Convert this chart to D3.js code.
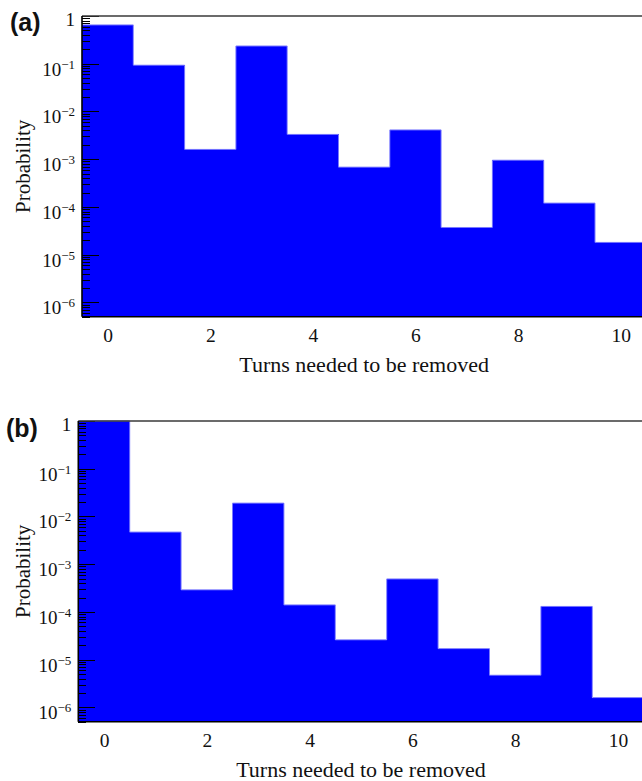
<!DOCTYPE html>
<html>
<head>
<meta charset="utf-8">
<script src="https://cdn.jsdelivr.net/npm/d3@7"></script>
<style>
  html, body { margin: 0; padding: 0; background: #fff; }
  svg { display: block; }
</style>
</head>
<body>
<svg id="chart" width="642" height="781"></svg>
<script>
// Number of turns (histogram bins, centred on integers)
const turns = [0, 1, 2, 3, 4, 5, 6, 7, 8, 9, 10];
// Probability of each turn count, panel (a)
const probA = [0.65, 0.093, 0.0016, 0.235, 0.0033, 0.00068, 0.0041, 0.000037, 0.00095, 0.00012, 0.000018];
// Probability of each turn count, panel (b)
const probB = [1.0, 0.0047, 0.00029, 0.019, 0.00014, 0.000026, 0.00049, 0.000017, 0.0000047, 0.00013, 0.0000016];
// Axis ticks
const xTickValues = [0, 2, 4, 6, 8, 10];
const yExponents = [0, -1, -2, -3, -4, -5, -6];
const panelLabels = ["(a)", "(b)"];
const xTitle = "Turns needed to be removed";
const yTitle = "Probability";

const svg = d3.select("#chart");
const serif = "'Liberation Serif', 'Times New Roman', serif";

function drawPanel(opts) {
  const { values, label, left, right, top, bottom } = opts;
  const g = svg.append("g");

  const x = d3.scaleLinear().domain([-0.5, 10.5]).range([left, right]);
  const y = d3.scaleLog().domain([5e-7, 1]).range([bottom, top]);

  // histogram bars
  g.append("g").selectAll("rect")
    .data(turns)
    .join("rect")
    .attr("x", d => x(d - 0.5))
    .attr("width", d => x(d + 0.5) - x(d - 0.5))
    .attr("y", (d, i) => y(values[i]))
    .attr("height", (d, i) => y.range()[0] - y(values[i]))
    .attr("fill", "#0000ff")
    .attr("shape-rendering", "crispEdges");

  // bar outline (stepped top edge)
  const step = [];
  turns.forEach((d, i) => {
    step.push([x(d - 0.5), y(values[i])]);
    step.push([x(d + 0.5), y(values[i])]);
  });
  g.append("path")
    .attr("d", d3.line()(step))
    .attr("fill", "none")
    .attr("stroke", "#7a7aff")
    .attr("stroke-width", 1);

  // y axis: inward ticks, major at decades and minor at 2..9
  const minor = [];
  for (let e = -7; e < 0; e++) {
    for (let m = 2; m <= 9; m++) {
      const v = m * Math.pow(10, e);
      if (v >= 5e-7 && v < 1) minor.push(v);
    }
  }
  const yAxisMinor = d3.axisRight(y).tickValues(minor).tickSize(8).tickFormat("");
  const yAxisMajor = d3.axisRight(y).tickValues(yExponents.map(e => Math.pow(10, e))).tickSize(17).tickFormat("");
  [yAxisMinor, yAxisMajor].forEach(ax => {
    const a = g.append("g").attr("transform", `translate(${left},0)`).call(ax);
    a.select(".domain").remove();
    a.selectAll("line").attr("stroke", "#000").attr("stroke-width", 1).attr("shape-rendering", "crispEdges");
  });

  // y tick labels as powers of ten
  yExponents.forEach(e => {
    const ty = y(Math.pow(10, e));
    const t = g.append("text")
      .attr("x", left - 7)
      .attr("text-anchor", "end")
      .attr("font-family", serif)
      .attr("font-size", 19)
      .attr("fill", "#111");
    if (e === 0) {
      t.attr("y", ty + 10).text("1");
    } else {
      t.attr("y", ty + 12);
      t.append("tspan").text("10");
      t.append("tspan").attr("font-size", 13).attr("dy", -7).text("\u2212" + Math.abs(e));
    }
  });

  // x tick labels (no tick marks)
  const xAxis = d3.axisBottom(x).tickValues(xTickValues).tickSize(0).tickPadding(11).tickFormat(d3.format("d"));
  const xa = g.append("g").attr("transform", `translate(0,${bottom})`).call(xAxis);
  xa.select(".domain").remove();
  xa.selectAll("text")
    .attr("font-family", serif)
    .attr("font-size", 19.5)
    .attr("fill", "#111");

  // frame
  g.append("line").attr("x1", left).attr("x2", right + 10).attr("y1", top).attr("y2", top)
    .attr("stroke", "#3a3a3a").attr("stroke-width", 1.6);
  g.append("line").attr("x1", left).attr("x2", left).attr("y1", top).attr("y2", bottom)
    .attr("stroke", "#000").attr("stroke-width", 1.6);
  g.append("line").attr("x1", left).attr("x2", right + 10).attr("y1", bottom).attr("y2", bottom)
    .attr("stroke", "#000").attr("stroke-width", 1.6);

  // axis titles
  g.append("text")
    .attr("x", (left + right) / 2)
    .attr("y", bottom + 55)
    .attr("text-anchor", "middle")
    .attr("font-family", serif)
    .attr("font-size", 22)
    .attr("fill", "#111")
    .text(xTitle);
  g.append("text")
    .attr("transform", `translate(30,${(top + bottom) / 2}) rotate(-90)`)
    .attr("text-anchor", "middle")
    .attr("font-family", serif)
    .attr("font-size", 21)
    .attr("fill", "#111")
    .text(yTitle);

  // panel tag
  g.append("text")
    .attr("x", opts.tagX)
    .attr("y", opts.tagY)
    .attr("font-family", "'Liberation Sans', Arial, sans-serif")
    .attr("font-weight", "bold")
    .attr("font-size", 25)
    .attr("fill", "#111")
    .text(label);
}

drawPanel({ values: probA, label: panelLabels[0], left: 82, right: 646.3, top: 16, bottom: 316.7, tagX: 10, tagY: 31 });
drawPanel({ values: probB, label: panelLabels[1], left: 78.3, right: 643.7, top: 421, bottom: 721.7, tagX: 6, tagY: 437 });
</script>
</body>
</html>
